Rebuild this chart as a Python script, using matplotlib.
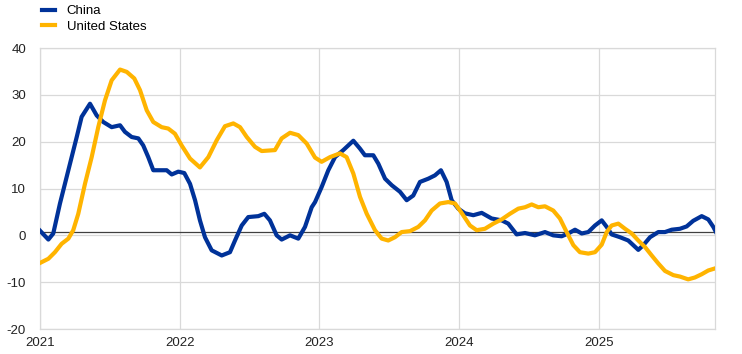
import matplotlib.pyplot as plt

# time as fraction of years since 2021-01-01, values in percent
china_t = [0.0, 0.06, 0.095, 0.143, 0.203, 0.263, 0.298, 0.358, 0.406, 0.453,
           0.513, 0.573, 0.608, 0.656, 0.704, 0.739, 0.775, 0.811, 0.859, 0.907,
           0.943, 0.990, 1.033, 1.074, 1.110, 1.145, 1.181, 1.229, 1.301, 1.360,
           1.396, 1.444, 1.491, 1.563, 1.606, 1.646, 1.694, 1.730, 1.790, 1.849,
           1.897, 1.945, 1.969, 2.016, 2.064, 2.112, 2.171, 2.243, 2.291, 2.326,
           2.386, 2.422, 2.470, 2.518, 2.577, 2.625, 2.672, 2.720, 2.780, 2.827,
           2.870, 2.911, 2.947, 2.994, 3.042, 3.102, 3.162, 3.233, 3.305, 3.352,
           3.412, 3.472, 3.543, 3.615, 3.674, 3.734, 3.782, 3.830, 3.878, 3.925,
           3.973, 4.021, 4.057, 4.092, 4.152, 4.211, 4.247, 4.283, 4.319, 4.367,
           4.426, 4.474, 4.522, 4.581, 4.629, 4.676, 4.737, 4.784, 4.820, 4.839]
china_v = [1.0, -0.9, 0.4, 6.8, 13.9, 21.0, 25.3, 28.1, 25.6, 24.2,
           23.1, 23.5, 22.1, 21.0, 20.7, 19.2, 16.7, 13.9, 13.9, 13.9,
           13.0, 13.6, 13.3, 11.0, 7.5, 3.2, -0.4, -3.2, -4.3, -3.6,
           -1.1, 2.1, 3.9, 4.1, 4.6, 3.2, 0.0, -0.9, 0.0, -0.7,
           1.8, 6.0, 7.1, 10.3, 13.9, 16.7, 18.2, 20.2, 18.5, 17.1,
           17.1, 15.3, 12.1, 10.7, 9.3, 7.5, 8.5, 11.4, 12.1, 12.8,
           13.9, 11.4, 7.5, 5.7, 4.7, 4.3, 4.8, 3.6, 3.2, 2.5,
           0.2, 0.5, 0.0, 0.7, 0.0, -0.2, 0.4, 1.2, 0.4, 0.7,
           2.1, 3.2, 1.8, 0.2, -0.4, -1.1, -2.1, -3.1, -2.1, -0.4,
           0.7, 0.7, 1.2, 1.4, 1.9, 3.1, 4.1, 3.4, 1.8, 0.7]

us_t = [0.0, 0.06, 0.107, 0.155, 0.203, 0.238, 0.274, 0.322, 0.370, 0.417,
        0.465, 0.513, 0.573, 0.621, 0.675, 0.716, 0.764, 0.811, 0.871, 0.918,
        0.966, 1.014, 1.074, 1.145, 1.205, 1.265, 1.324, 1.384, 1.432, 1.480,
        1.539, 1.587, 1.682, 1.730, 1.790, 1.849, 1.909, 1.969, 2.016, 2.076,
        2.147, 2.195, 2.243, 2.291, 2.339, 2.398, 2.446, 2.493, 2.541, 2.589,
        2.649, 2.708, 2.756, 2.804, 2.863, 2.923, 2.971, 3.018, 3.078, 3.126,
        3.185, 3.245, 3.305, 3.364, 3.424, 3.472, 3.520, 3.567, 3.615, 3.674,
        3.722, 3.770, 3.818, 3.865, 3.925, 3.973, 4.021, 4.057, 4.092, 4.140,
        4.188, 4.236, 4.283, 4.331, 4.379, 4.426, 4.474, 4.534, 4.581, 4.640,
        4.688, 4.737, 4.784, 4.839]
us_v = [-5.9, -5.0, -3.6, -1.8, -0.7, 1.1, 4.6, 11.0, 16.7, 23.1,
        28.8, 33.1, 35.4, 34.9, 33.5, 31.0, 26.7, 24.2, 23.1, 22.8,
        21.7, 19.2, 16.4, 14.5, 16.7, 20.3, 23.3, 23.9, 23.1, 21.0,
        18.9, 18.0, 18.2, 20.7, 21.9, 21.4, 19.6, 16.6, 15.7, 16.7,
        17.5, 16.7, 13.2, 8.2, 4.6, 1.1, -0.7, -1.1, -0.4, 0.7,
        0.9, 1.8, 3.2, 5.3, 6.8, 7.1, 6.8, 4.8, 2.1, 1.1,
        1.4, 2.5, 3.4, 4.6, 5.7, 6.0, 6.6, 6.0, 6.2, 5.3,
        3.6, 0.7, -2.1, -3.6, -3.9, -3.6, -2.0, 0.7, 2.1, 2.5,
        1.4, 0.4, -1.1, -2.5, -4.3, -6.0, -7.6, -8.5, -8.8, -9.4,
        -9.0, -8.3, -7.5, -7.0]

years = [2021, 2022, 2023, 2024, 2025]
yticks = [-20, -10, 0, 10, 20, 30, 40]

plt.rcParams["font.family"] = ["Liberation Sans", "DejaVu Sans"]
plt.rcParams["axes.unicode_minus"] = False

fig = plt.figure(figsize=(7.42, 3.54), dpi=100)
ax = fig.add_axes([0.0539, 0.0706, 0.9097, 0.7938])

ax.plot([2021 + t for t in china_t], china_v, color="#003299", lw=3.0,
        solid_joinstyle="round", label="China", zorder=3)
ax.plot([2021 + t for t in us_t], us_v, color="#FFB400", lw=3.0,
        solid_joinstyle="round", label="United States", zorder=3)

ax.axhline(0.8, color="#404040", lw=0.9, zorder=2)

ax.set_xlim(2021, 2025.832)
ax.set_ylim(-20, 40)
ax.set_xticks(years)
ax.set_xticklabels([str(y) for y in years])
ax.set_yticks(yticks)
ax.grid(True, color="#d9d9d9", lw=0.9, zorder=0)
ax.set_axisbelow(True)
for s in ax.spines.values():
    s.set_color("#d9d9d9")
    s.set_linewidth(0.9)
ax.tick_params(length=0, labelsize=9.5, colors="#222222")
ax.tick_params(axis="y", pad=10)
ax.tick_params(axis="x", pad=6)

fig.legend(loc="upper left", bbox_to_anchor=(0.049, 1.001), frameon=False,
           fontsize=9.5, handlelength=1.0, handletextpad=0.9, labelspacing=0.25,
           borderaxespad=0)

fig.savefig("out.png", dpi=100)
